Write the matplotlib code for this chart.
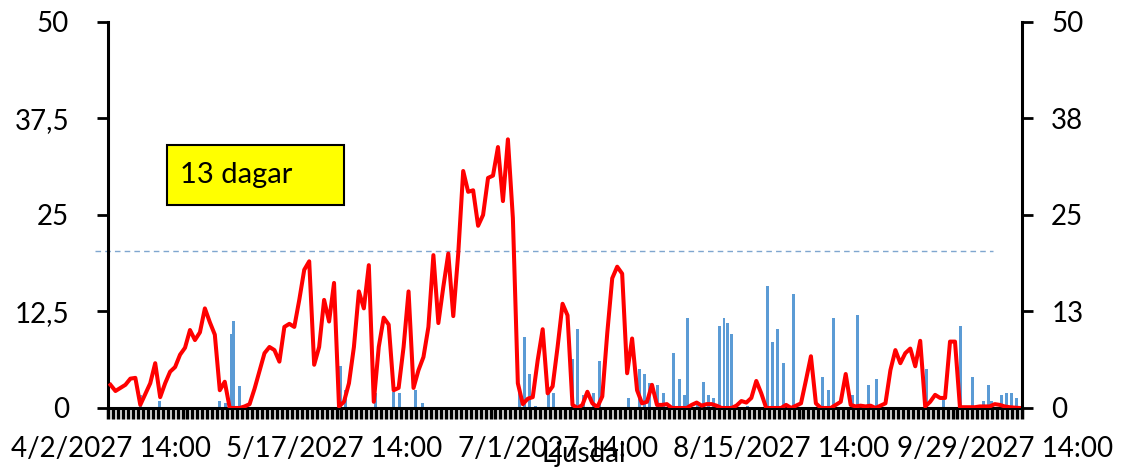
import matplotlib
matplotlib.use("Agg")
import matplotlib.pyplot as plt
from matplotlib.patches import Rectangle
import numpy as np

# daily values (red line), one per day starting 4/2/2027 14:00
daily = [3.0, 2.2, 2.6, 3.0, 3.8, 3.9, 0.4, 1.8, 3.2, 5.8,
         1.4, 3.2, 4.7, 5.3, 6.9, 7.8, 10.1, 8.8, 9.8, 12.9,
         11.1, 9.5, 2.3, 3.4, 0.0, 0.0, 0.0, 0.2, 0.5, 2.5,
         4.8, 7.1, 7.9, 7.5, 6.0, 10.5, 10.9, 10.5, 14.0, 17.9,
         19.0, 5.6, 7.9, 14.0, 11.2, 16.2, 0.2, 0.8, 3.2, 7.9,
         15.1, 12.9, 18.5, 0.8, 7.9, 11.7, 10.8, 2.3, 2.6, 7.9,
         15.1, 2.6, 4.9, 6.6, 10.5, 19.8, 11.0, 15.7, 20.0, 11.9,
         20.0, 30.7, 28.0, 28.2, 23.6, 25.0, 29.8, 30.1, 33.8, 26.8,
         34.8, 24.6, 3.2, 0.5, 1.2, 1.4, 6.2, 10.2, 1.9, 2.8,
         7.9, 13.5, 12.0, 0.4, 0.0, 0.4, 2.1, 0.6, 0.1, 1.5,
         9.7, 16.8, 18.3, 17.4, 4.5, 9.0, 2.3, 0.6, 0.8, 3.0,
         0.4, 0.4, 0.5, 0.0, 0.0, 0.0, 0.0, 0.4, 0.7, 0.3,
         0.5, 0.5, 0.3, 0.0, 0.0, 0.0, 0.3, 0.9, 0.7, 1.3,
         3.5, 1.9, 0.0, 0.0, 0.0, 0.0, 0.4, 0.0, 0.3, 0.6,
         3.6, 6.7, 0.6, 0.0, 0.0, 0.0, 0.4, 0.8, 4.4, 0.4,
         0.2, 0.3, 0.2, 0.3, 0.0, 0.3, 0.6, 4.9, 7.5, 5.8,
         7.1, 7.7, 5.4, 8.7, 0.2, 0.8, 1.7, 1.3, 1.3, 8.6,
         8.6, 0.1, 0.1, 0.1, 0.1, 0.2, 0.2, 0.2, 0.5, 0.4,
         0.2, 0.1, 0.05, 0.0]

# event bars: time in days after start, value
bar_day = [6.1, 9.8, 22.0, 23.1, 24.3, 24.7, 25.9, 46.3, 47.3, 53.3,
           56.9, 58.1, 61.4, 62.9, 82.4, 83.3, 84.3, 85.5, 88.2, 89.2,
           93.0, 94.0, 95.2, 97.2, 98.4, 104.2, 106.4, 107.5, 108.5, 110.1,
           111.3, 113.3, 114.5, 115.6, 116.1, 118.1, 119.3, 120.3, 121.3, 122.5,
           123.5, 124.2, 125.1, 128.3, 132.2, 133.2, 134.2, 135.4, 137.4, 143.4,
           144.5, 145.5, 149.4, 150.3, 152.5, 154.2, 164.3, 167.6, 171.2, 173.5,
           175.7, 176.7, 177.3, 179.3, 180.4, 181.4, 182.4]
bar_val = [1.7, 0.9, 0.9, 0.7, 9.6, 11.3, 2.8, 5.4, 2.3, 2.0,
           2.1, 2.0, 2.3, 0.6, 1.9, 9.2, 4.4, 0.3, 1.9, 1.9,
           6.4, 10.2, 1.7, 1.9, 6.1, 1.3, 5.0, 4.4, 3.3, 3.0,
           1.9, 7.1, 3.8, 1.7, 11.6, 0.4, 3.4, 1.7, 1.3, 10.6,
           11.6, 11.0, 9.6, 0.3, 15.8, 8.5, 10.2, 5.8, 14.8, 4.0,
           2.3, 11.6, 1.7, 12.0, 3.0, 3.7, 5.0, 1.0, 10.6, 4.0,
           0.9, 3.0, 0.9, 1.7, 1.9, 1.9, 1.3]

tick_pos = [0, 45, 90, 135, 180]
tick_labels = ['4/2/2027 14:00', '5/17/2027 14:00', '7/1/2027 14:00',
               '8/15/2027 14:00', '9/29/2027 14:00']
yticks = [0, 12.5, 25, 37.5, 50]
left_labels = ['0', '12,5', '25', '37,5', '50']
right_labels = ['0', '13', '25', '38', '50']
limit = 20.3

plt.rcParams['font.family'] = ['Lato', 'DejaVu Sans']

fig = plt.figure(figsize=(11.24, 4.71), dpi=100)
ax = fig.add_axes([0.0961, 0.1338, 0.8132, 0.8195])
n = len(daily)
x = np.arange(n)

ax.bar(bar_day, bar_val, width=0.6, color='#5B9BD5', zorder=2)
ax.plot(x, daily, color='red', lw=2.9, zorder=3)
ax.plot([-0.014, 0.968], [limit, limit], transform=ax.get_yaxis_transform(),
        color='#7FA6CF', lw=1, dashes=(4, 3), clip_on=False, zorder=1)

ax.set_xlim(-0.5, n - 0.5)
ax.set_ylim(0, 50)
ax.set_xticks(tick_pos)
ax.set_xticklabels(tick_labels, fontsize=20)
ax.set_xticks(np.arange(n + 1) - 0.5, minor=True)
ax.tick_params(axis='x', which='major', length=0, pad=20)
ax.tick_params(axis='x', which='minor', length=8, width=2.5, color='black')
ax.set_yticks(yticks)
ax.set_yticklabels(left_labels, fontsize=20)
ax.tick_params(axis='y', length=8, width=2, pad=20)
ax.set_xlabel('Ljusdal', fontsize=20)
ax.xaxis.set_label_coords(0.52, -0.085, transform=ax.transAxes)
ax.xaxis.label.set_va('top')

for s in ['top', 'right']:
    ax.spines[s].set_visible(False)
ax.spines['left'].set_linewidth(2.2)
ax.spines['bottom'].set_linewidth(2.2)

ax2 = ax.twinx()
ax2.set_ylim(0, 50)
ax2.set_yticks(yticks)
ax2.set_yticklabels(right_labels, fontsize=20)
ax2.tick_params(axis='y', length=8, width=2, pad=13)
for s in ['top', 'left', 'bottom']:
    ax2.spines[s].set_visible(False)
ax2.spines['right'].set_linewidth(2.2)

# annotation box
ax.add_patch(Rectangle((0.0646, 0.526), 0.1935, 0.155, transform=ax.transAxes,
                       facecolor='yellow', edgecolor='black', lw=1.5, zorder=4))
ax.text(0.079, 0.603, '13 dagar', transform=ax.transAxes, fontsize=21,
        va='center', ha='left', zorder=5)

fig.savefig('out.png', dpi=100)
